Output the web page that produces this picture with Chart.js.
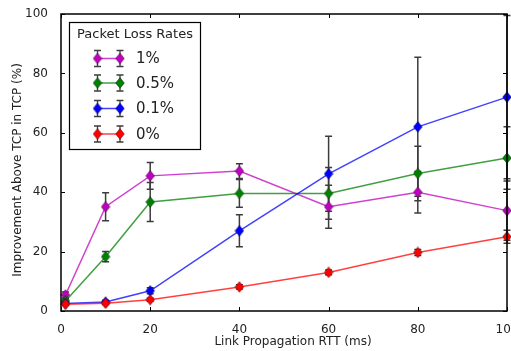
<!DOCTYPE html>
<html>
<head>
<meta charset="utf-8">
<script src="https://cdn.jsdelivr.net/npm/chart.js@4.4.1/dist/chart.umd.min.js"></script>
<style>
html,body{margin:0;padding:0;background:#fff;}
canvas{display:block;}
</style>
</head>
<body>
<canvas id="c" width="511" height="351"></canvas>
<script>
// ---- data ----
const rttValues = [1, 10, 20, 40, 60, 80, 100];
const seriesLabels = ['1%', '0.5%', '0.1%', '0%'];
const loss1 = [5.4, 35.1, 45.5, 47.1, 35.1, 40.0, 33.8];
const err1 = [1.0, 4.7, 4.5, 2.5, 7.2, 7.0, 10.0];
const loss05 = [3.4, 18.3, 36.7, 39.6, 39.6, 46.3, 51.5];
const err05 = [0.6, 1.7, 6.6, 4.7, 8.7, 9.2, 10.5];
const loss01 = [2.5, 3.0, 6.8, 27.0, 46.2, 62.0, 72.0];
const err01 = [0.5, 0.6, 1.0, 5.4, 12.6, 23.4, 27.5];
const loss0 = [2.3, 2.6, 3.8, 8.1, 13.0, 19.7, 25.0];
const err0 = [0.4, 0.4, 0.5, 0.7, 0.8, 1.0, 2.2];
const xTicks = [0, 20, 40, 60, 80, 100];
const yTicks = [0, 20, 40, 60, 80, 100];
const legendTitle = 'Packet Loss Rates';
const xTitle = 'Link Propagation RTT (ms)';
const yTitle = 'Improvement Above TCP in TCP (%)';

const FONT = '"DejaVu Sans", sans-serif';
const ERR_COLOR = '#3c3c3c';
const TEXT_COLOR = '#222';

function diamond(color) {
  const c = document.createElement('canvas');
  c.width = 10; c.height = 12;
  const g = c.getContext('2d');
  g.beginPath();
  g.moveTo(5, 0.6); g.lineTo(9.4, 6); g.lineTo(5, 11.4); g.lineTo(0.6, 6); g.closePath();
  g.fillStyle = color; g.fill();
  g.strokeStyle = 'rgba(0,0,0,0.45)'; g.lineWidth = 0.8; g.stroke();
  return c;
}

const seriesValues = [loss1, loss05, loss01, loss0];
const seriesErrors = [err1, err05, err01, err0];
const markerColors = ['#bf00bf', '#008000', '#0000ff', '#ff0000'];
const lineColors = ['rgba(191,0,191,0.75)', 'rgba(0,128,0,0.75)', 'rgba(0,0,255,0.75)', 'rgba(255,0,0,0.75)'];
const markers = markerColors.map(diamond);

const datasets = seriesLabels.map((lab, i) => ({
  label: lab,
  data: rttValues.map((x, j) => ({x: x, y: seriesValues[i][j]})),
  errors: seriesErrors[i],
  borderColor: lineColors[i],
  backgroundColor: markerColors[i],
  borderWidth: 1.5,
  pointStyle: markers[i],
  pointRadius: 5,
  tension: 0,
  clip: false,
  order: 4 - i
}));

const errorBars = {
  id: 'errorBars',
  beforeDatasetsDraw(chart) {
    const ctx = chart.ctx, ys = chart.scales.y;
    ctx.save();
    ctx.strokeStyle = ERR_COLOR;
    ctx.lineWidth = 1.5;
    const metas = chart.getSortedVisibleDatasetMetas().slice().reverse();
    metas.forEach(meta => {
      const ds = chart.data.datasets[meta.index];
      meta.data.forEach((pt, j) => {
        const v = ds.data[j].y, e = ds.errors[j];
        const yt = ys.getPixelForValue(v + e), yb = ys.getPixelForValue(v - e);
        const x = pt.x;
        ctx.beginPath();
        ctx.moveTo(x, yt); ctx.lineTo(x, yb);
        ctx.moveTo(x - 3.5, yt); ctx.lineTo(x + 3.5, yt);
        ctx.moveTo(x - 3.5, yb); ctx.lineTo(x + 3.5, yb);
        ctx.stroke();
      });
    });
    ctx.restore();
  }
};

const frame = {
  id: 'frame',
  afterDraw(chart) {
    const ctx = chart.ctx, a = chart.chartArea, xs = chart.scales.x, ys = chart.scales.y;
    ctx.save();
    ctx.strokeStyle = '#000';
    ctx.lineWidth = 1;
    ctx.beginPath();
    xTicks.forEach(t => {
      const x = Math.round(xs.getPixelForValue(t)) + 0.5;
      ctx.moveTo(x, a.bottom); ctx.lineTo(x, a.bottom - 4);
      ctx.moveTo(x, a.top); ctx.lineTo(x, a.top + 4);
    });
    yTicks.forEach(t => {
      const y = Math.round(ys.getPixelForValue(t)) + 0.5;
      ctx.moveTo(a.left, y); ctx.lineTo(a.left + 4, y);
      ctx.moveTo(a.right, y); ctx.lineTo(a.right - 4, y);
    });
    ctx.stroke();
    ctx.lineWidth = 1.5;
    ctx.strokeRect(a.left, a.top, a.right - a.left, a.bottom - a.top);
    // axis titles
    ctx.fillStyle = TEXT_COLOR;
    ctx.font = '12px ' + FONT;
    ctx.textAlign = 'center';
    ctx.textBaseline = 'middle';
    ctx.fillText(xTitle, 293, 342);
    ctx.translate(18, 170);
    ctx.rotate(-Math.PI / 2);
    ctx.fillText(yTitle, 0, 0);
    ctx.restore();
  }
};

const legendBox = {
  id: 'legendBox',
  afterDraw(chart) {
    const ctx = chart.ctx;
    const bx = 69.5, by = 22.5, bw = 131, bh = 127;
    ctx.save();
    ctx.fillStyle = '#fff';
    ctx.fillRect(bx, by, bw, bh);
    ctx.strokeStyle = '#000';
    ctx.lineWidth = 1.2;
    ctx.strokeRect(bx, by, bw, bh);
    ctx.fillStyle = TEXT_COLOR;
    ctx.font = '13px ' + FONT;
    ctx.textAlign = 'center';
    ctx.textBaseline = 'middle';
    ctx.fillText(legendTitle, bx + bw / 2, 35);
    const rows = [58.5, 83, 108.5, 134];
    chart.data.datasets.forEach((ds, i) => {
      const y = rows[i], x1 = 97.5, x2 = 120;
      ctx.strokeStyle = ds.borderColor;
      ctx.lineWidth = 1.5;
      ctx.beginPath(); ctx.moveTo(x1, y); ctx.lineTo(x2, y); ctx.stroke();
      ctx.strokeStyle = ERR_COLOR;
      ctx.lineWidth = 1.3;
      [x1, x2].forEach(x => {
        ctx.beginPath();
        ctx.moveTo(x, y - 8); ctx.lineTo(x, y + 8);
        ctx.moveTo(x - 3.5, y - 8); ctx.lineTo(x + 3.5, y - 8);
        ctx.moveTo(x - 3.5, y + 8); ctx.lineTo(x + 3.5, y + 8);
        ctx.stroke();
        ctx.drawImage(ds.pointStyle, x - 5, y - 6);
      });
      ctx.fillStyle = TEXT_COLOR;
      ctx.font = '15px ' + FONT;
      ctx.textAlign = 'left';
      ctx.fillText(ds.label, 136, y + 1);
    });
    ctx.restore();
  }
};

new Chart(document.getElementById('c'), {
  type: 'line',
  data: {datasets: datasets},
  options: {
    responsive: false,
    animation: false,
    devicePixelRatio: 1,
    layout: {autoPadding: false, padding: {top: 14, right: 4, left: 0, bottom: 0}},
    plugins: {legend: {display: false}, tooltip: {enabled: false}},
    scales: {
      x: {
        type: 'linear', min: 0, max: 100,
        afterBuildTicks: s => { s.ticks = xTicks.map(v => ({value: v})); },
        afterFit: s => { s.height = 40; s.paddingLeft = 0; s.paddingRight = 0; },
        grid: {display: false}, border: {display: false},
        ticks: {font: {family: FONT, size: 12}, color: TEXT_COLOR, padding: 4, maxRotation: 0, autoSkip: false},
        title: {display: false}
      },
      y: {
        type: 'linear', min: 0, max: 100,
        afterBuildTicks: s => { s.ticks = yTicks.map(v => ({value: v})); },
        afterFit: s => { s.width = 61; s.paddingTop = 0; s.paddingBottom = 0; },
        grid: {display: false}, border: {display: false},
        ticks: {font: {family: FONT, size: 12}, color: TEXT_COLOR, padding: 5},
        title: {display: false}
      }
    }
  },
  plugins: [errorBars, frame, legendBox]
});
</script>
</body>
</html>
